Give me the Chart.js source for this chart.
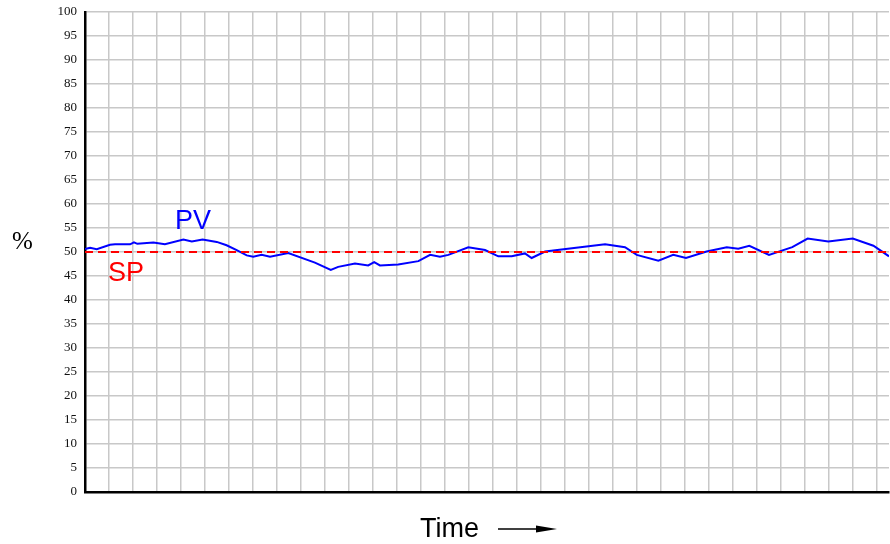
<!DOCTYPE html>
<html>
<head>
<meta charset="utf-8">
<script src="https://cdn.jsdelivr.net/npm/chart.js@4.4.1/dist/chart.umd.min.js"></script>
<style>
  html, body { margin: 0; padding: 0; background: #fff; }
  #wrap { position: relative; width: 890px; height: 544px; }
  .lbl { position: absolute; white-space: nowrap; line-height: 1; }
</style>
</head>
<body>
<div id="wrap">
  <canvas id="myChart" width="890" height="544"></canvas>
  <div class="lbl" id="pct" style="left:12px; top:227px; font: 25px 'Liberation Serif', serif; color:#000;">%</div>
  <div class="lbl" id="pv" style="left:175px; top:205px; font: 27px 'Liberation Sans', Arial, sans-serif; color:#0000ff;">PV</div>
  <div class="lbl" id="sp" style="left:108px; top:257px; font: 27px 'Liberation Sans', Arial, sans-serif; color:#ff0000;">SP</div>
  <div class="lbl" id="time" style="left:420px; top:513px; font: 27px 'Liberation Sans', Arial, sans-serif; color:#000;">Time</div>
  <svg style="position:absolute; left:496px; top:521px;" width="64" height="16">
    <line x1="2" y1="8" x2="50" y2="8" stroke="#000" stroke-width="1.5"/>
    <polygon points="40,4.5 61,8 40,11.5" fill="#000"/>
  </svg>
</div>
<script>
// datos (tiempo en divisiones de la cuadrícula)
const timeValues = [0, 0.21, 0.49, 1.04, 1.25, 1.88, 2.04, 2.18, 2.85, 3.33, 4.10, 4.45, 4.90, 5.49, 5.90,
  6.32, 6.74, 7.01, 7.36, 7.71, 8.47, 9.58, 10.24, 10.55, 11.25, 11.80, 12.05, 12.29, 13.05, 13.89,
  14.38, 14.79, 15.14, 15.97, 16.67, 17.22, 17.78, 18.33, 18.61, 19.17, 21.67, 22.5, 22.99, 23.89,
  24.51, 25.04, 25.90, 26.74, 27.22, 27.68, 28.5, 29.47, 30.11, 30.97, 31.99, 32.85, 33.5];
const pvValues = [50.6, 50.9, 50.6, 51.5, 51.6, 51.6, 52.0, 51.7, 52.0, 51.6, 52.6, 52.2, 52.6, 52.1, 51.4,
  50.4, 49.3, 49.0, 49.4, 49.0, 49.8, 47.8, 46.25, 46.9, 47.6, 47.2, 47.9, 47.2, 47.4, 48.1,
  49.4, 49.0, 49.4, 51.0, 50.4, 49.1, 49.1, 49.7, 48.75, 50.1, 51.6, 51.0, 49.4, 48.2,
  49.4, 48.75, 50.1, 51.0, 50.7, 51.3, 49.4, 51.0, 52.8, 52.2, 52.8, 51.3, 49.1];
const spValue = 50;
const yTicks = [0, 5, 10, 15, 20, 25, 30, 35, 40, 45, 50, 55, 60, 65, 70, 75, 80, 85, 90, 95, 100];
const xGrid = [0, 1, 2, 3, 4, 5, 6, 7, 8, 9, 10, 11, 12, 13, 14, 15, 16, 17, 18, 19, 20, 21, 22, 23, 24,
  25, 26, 27, 28, 29, 30, 31, 32, 33];
const xMax = 33.5;

const pvPoints = timeValues.map((t, i) => ({ x: t, y: pvValues[i] }));
const spPoints = [{ x: 0, y: spValue }, { x: xMax, y: spValue }];

const ctx = document.getElementById('myChart').getContext('2d');
new Chart(ctx, {
  type: 'line',
  data: {
    datasets: [
      {
        label: 'SP',
        data: spPoints,
        borderColor: '#ff0000',
        borderWidth: 2,
        borderDash: [8, 5],
        pointRadius: 0,
        tension: 0,
      },
      {
        label: 'PV',
        data: pvPoints,
        borderColor: '#0000ff',
        borderWidth: 2,
        pointRadius: 0,
        tension: 0,
      },
    ],
  },
  options: {
    responsive: false,
    animation: false,
    layout: { padding: { top: 12, right: 1, left: 0, bottom: 0 } },
    plugins: { legend: { display: false }, tooltip: { enabled: false } },
    scales: {
      x: {
        type: 'linear',
        min: 0,
        max: xMax,
        afterBuildTicks: (scale) => { scale.ticks = xGrid.map(v => ({ value: v })); },
        ticks: { display: false },
        grid: { color: '#c8c8c8', lineWidth: 1.5, drawTicks: false },
        border: { color: '#000', width: 2.5 },
        afterFit: (scale) => { scale.height = 52; scale.paddingLeft = 0; scale.paddingRight = 0; },
      },
      y: {
        min: 0,
        max: 100,
        afterBuildTicks: (scale) => { scale.ticks = yTicks.map(v => ({ value: v })); },
        ticks: {
          color: '#111',
          padding: 8,
          font: { family: "'Liberation Serif', serif", size: 13 },
        },
        grid: { color: '#c8c8c8', lineWidth: 1.5, drawTicks: false },
        border: { color: '#000', width: 2.5 },
        afterFit: (scale) => { scale.width = 85; scale.paddingTop = 0; scale.paddingBottom = 0; },
      },
    },
  },
});
</script>
</body>
</html>
